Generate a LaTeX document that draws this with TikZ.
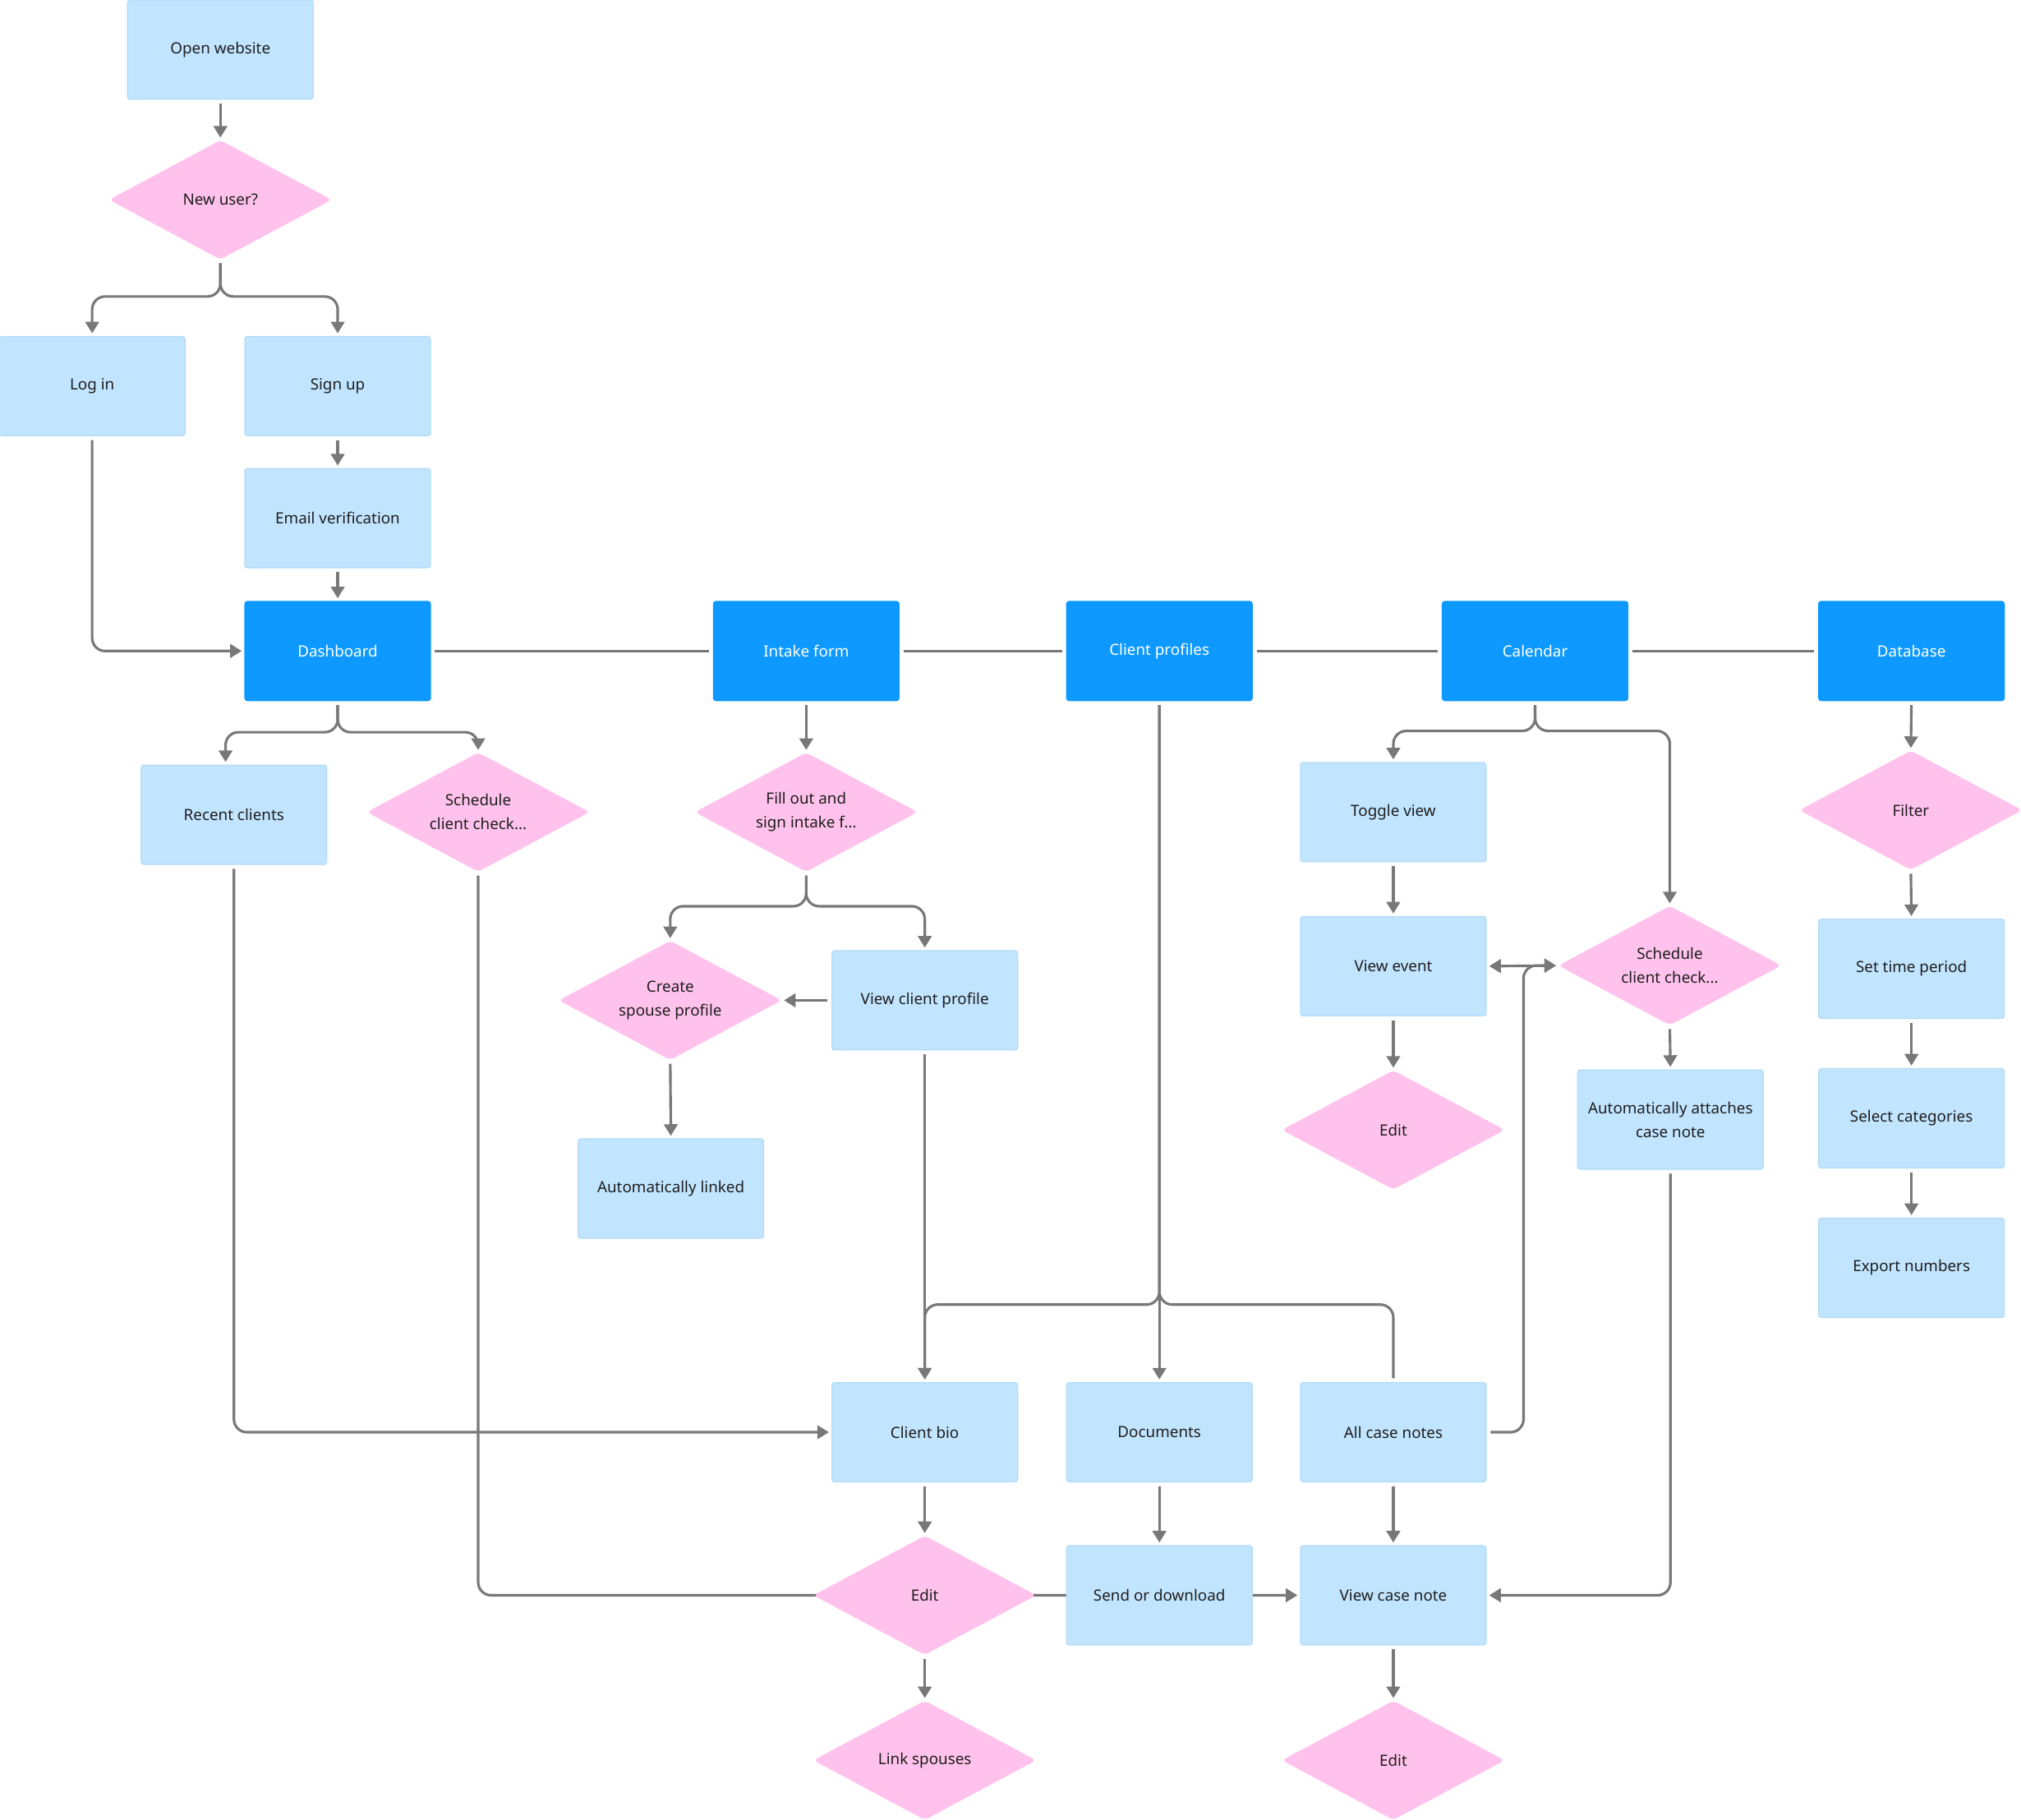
\documentclass[tikz,border=0pt]{standalone}
\usepackage{fontspec}
\setmainfont{Noto Sans}
\usetikzlibrary{shapes.geometric,arrows.meta,backgrounds}
\definecolor{lb}{HTML}{C2E5FF}
\definecolor{lbb}{HTML}{B2DBF7}
\definecolor{db}{HTML}{0D99FF}
\definecolor{pk}{HTML}{FFC2EC}
\definecolor{ln}{HTML}{787878}
\definecolor{tx}{HTML}{1E1E1E}
\begin{document}
\begin{tikzpicture}[x=1pt,y=-1pt,
 box/.style={draw=lbb, line width=0.8pt, fill=lb, rounded corners=2pt, minimum width=144pt, minimum height=77pt, inner sep=0pt, text=tx, align=center, font=\fontsize{12}{18.5}\selectfont},
 dbox/.style={box, draw=db, fill=db, text=white},
 dec/.style={diamond, draw=pk, fill=pk, line width=0.5pt, minimum width=172pt, minimum height=92pt, inner sep=0pt, aspect=1.87, rounded corners=3pt, text=tx, align=center, font=\fontsize{12}{18.5}\selectfont},
 conn/.style={draw=ln, line width=2pt, rounded corners=10pt, shorten <=3pt, shorten >=3pt},
 arr/.style={conn, shorten >=2pt, -{Triangle[length=9pt,width=10.5pt]}},
]
\useasboundingbox (0,0) rectangle (1568,1411.2);

\node[box] (open) at (171,38.5) {Open website};
\node[dec] (new) at (171,155) {New user?};
\node[box] (login) at (71.5,299.5) {Log in};
\node[box] (signup) at (262,299.5) {Sign up};
\node[box] (email) at (262,402) {Email verification};
\node[dbox] (dash) at (262,505) {Dashboard};
\node[dbox] (intake) at (625.5,505) {Intake form};
\node[dbox] (cprof) at (899.5,505) {Client profiles};
\node[dbox] (cal) at (1191,505) {Calendar};
\node[dbox] (dbase) at (1483,505) {Database};
\node[box] (recent) at (181.5,632) {Recent clients};
\node[dec] (schedA) at (371,630) {Schedule\\client check...};
\node[dec] (fill) at (625.5,630) {Fill out and\\sign intake f...};
\node[dec] (spouse) at (520,776) {Create\\spouse profile};
\node[box] (viewcp) at (717.5,776) {View client profile};
\node[box] (autolink) at (520.5,922) {Automatically linked};
\node[box] (toggle) at (1081,630) {Toggle view};
\node[box] (viewev) at (1081,749.5) {View event};
\node[dec] (editA) at (1081,876.5) {Edit};
\node[dec] (schedB) at (1295.5,749) {Schedule\\client check...};
\node[box] (autoatt) at (1296,868.5) {Automatically attaches\\case note};
\node[dec] (filter) at (1482.5,628.5) {Filter};
\node[box] (settime) at (1483,751.5) {Set time period};
\node[box] (selcat) at (1483,867.5) {Select categories};
\node[box] (export) at (1483,983.5) {Export numbers};
\node[box] (bio) at (717.5,1111) {Client bio};
\node[box] (docs) at (899.5,1111) {Documents};
\node[box] (allcn) at (1081,1111) {All case notes};
\node[dec] (editB) at (717.5,1237.5) {Edit};
\node[box] (send) at (899.5,1237.5) {Send or download};
\node[box] (viewcn) at (1081,1237.5) {View case note};
\node[dec] (link) at (717.5,1365.5) {Link spouses};
\node[dec] (editC) at (1081,1365.5) {Edit};

\begin{pgfonlayer}{background}
\fill[white] (0,0) rectangle (1568,1411.2);
\draw[arr] (open.south) -- (new.north);
\draw[arr] (new.south) -- (171,230) -| (login.north);
\draw[arr] (new.south) -- (171,230) -| (signup.north);
\draw[arr] (signup.south) -- (email.north);
\draw[arr] (email.south) -- (dash.north);
\draw[arr] (login.south) |- (dash.west);
\draw[conn] (dash.east) -- (intake.west);
\draw[conn] (intake.east) -- (cprof.west);
\draw[conn] (cprof.east) -- (cal.west);
\draw[conn] (cal.east) -- (dbase.west);
\draw[arr] (dash.south) -- (262,568) -| ([xshift=-6.5pt]recent.north);
\draw[arr] (dash.south) -- (262,568) -| (schedA.north);
\draw[arr] (intake.south) -- (fill.north);
\draw[arr] (fill.south) -- (625.5,703) -| (spouse.north);
\draw[arr] (fill.south) -- (625.5,703) -| (viewcp.north);
\draw[arr] (viewcp.west) -- (spouse.east);
\draw[arr] (spouse.south) -- (autolink.north);
\draw[arr] (viewcp.south) -- (bio.north);
\draw[arr] (cprof.south) -- (899.5,1012) -| (bio.north);
\draw[arr] (cprof.south) -- (docs.north);
\draw[conn] (cprof.south) -- (899.5,1012) -| (allcn.north);
\draw[arr] (recent.south) |- (bio.west);
\draw[arr] (schedA.south) |- (viewcn.west);
\draw[arr] (bio.south) -- (editB.north);
\draw[arr] (editB.south) -- (link.north);
\draw[arr] (docs.south) -- (send.north);
\draw[arr] (allcn.south) -- (viewcn.north);
\draw[arr] (viewcn.south) -- (editC.north);
\draw[arr] (allcn.east) -- (1182,1111) |- (schedB.west);
\draw[arr, shorten <=2pt, {Triangle[length=9pt,width=10.5pt]}-{Triangle[length=9pt,width=10.5pt]}] (viewev.east) -- (schedB.west);
\draw[arr] (cal.south) -- (1191,567) -| (toggle.north);
\draw[arr] (cal.south) -- (1191,567) -| (schedB.north);
\draw[arr] (toggle.south) -- (viewev.north);
\draw[arr] (viewev.south) -- (editA.north);
\draw[arr] (schedB.south) -- (autoatt.north);
\draw[arr] (autoatt.south) |- (viewcn.east);
\draw[arr] (dbase.south) -- (filter.north);
\draw[arr] (filter.south) -- (settime.north);
\draw[arr] (settime.south) -- (selcat.north);
\draw[arr] (selcat.south) -- (export.north);
\end{pgfonlayer}
\end{tikzpicture}
\end{document}
